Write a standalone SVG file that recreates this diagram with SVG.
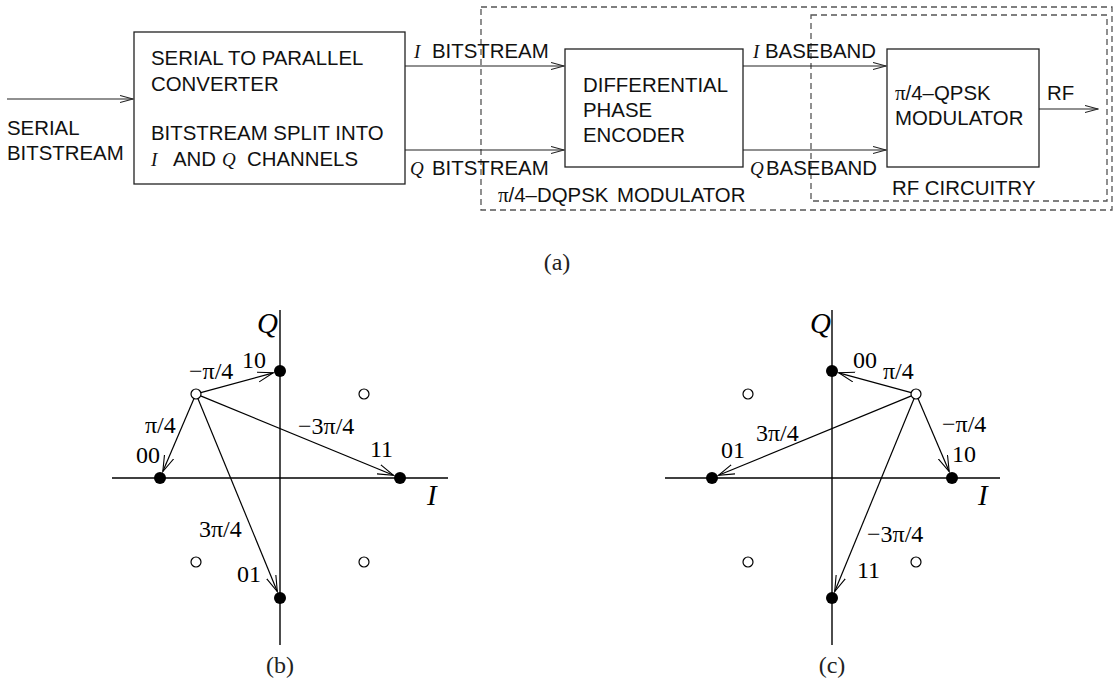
<svg xmlns="http://www.w3.org/2000/svg" width="1117" height="686" viewBox="0 0 1117 686">
  <style>
    .bg { fill: #ffffff; }
    .box { fill: none; stroke: #222; stroke-width: 1.3; }
    .dash { fill: none; stroke: #555; stroke-width: 1.3; stroke-dasharray: 6 4; }
    .wire { fill: none; stroke: #222; stroke-width: 1.2; }
    .axis { fill: none; stroke: #000; stroke-width: 1.4; }
    .vec { fill: none; stroke: #000; stroke-width: 1.2; }
    .sans { font-family: "Liberation Sans", Arial, Helvetica, sans-serif; font-size: 20.4px; fill: #111; }
    .it { font-family: "Liberation Serif", "Times New Roman", serif; font-style: italic; font-size: 19px; fill: #111; }
    .sym { font-family: "Liberation Serif", "Times New Roman", serif; font-size: 21px; fill: #111; }
    .math { font-family: "Liberation Serif", "Times New Roman", serif; font-size: 24px; fill: #000; }
    .axlbl { font-family: "Liberation Serif", "Times New Roman", serif; font-style: italic; font-size: 29px; fill: #000; }
    .cap { font-family: "Liberation Serif", "Times New Roman", serif; font-size: 24px; fill: #222; text-anchor: middle; }
    .on { fill: #000; }
    .off { fill: #fff; stroke: #000; stroke-width: 1.2; }
  </style>
  <defs>
    <marker id="openHead" markerUnits="userSpaceOnUse" markerWidth="14" markerHeight="10" refX="13" refY="4" orient="auto" viewBox="0 0 14 10">
      <path d="M0,0.5 L13,4 L0,7.5" fill="none" stroke="#222" stroke-width="1.1"/>
    </marker>
    <marker id="vecHead" markerUnits="userSpaceOnUse" markerWidth="18" markerHeight="12" refX="16" refY="5.5" orient="auto" viewBox="0 0 18 12">
      <path d="M0,0.5 L16,5.5 L0,10.5" fill="none" stroke="#000" stroke-width="1.1"/>
    </marker>
  </defs>

  <rect class="bg" x="0" y="0" width="1117" height="686"/>

  <!-- (a) block diagram -->
  <g id="modulator-frame">
    <rect class="dash" x="481" y="7" width="631" height="203"/>
    <text class="sans" x="498" y="202"><tspan class="sym">π</tspan>/4–DQPSK<tspan x="617">MODULATOR</tspan></text>
  </g>
  <g id="rf-frame">
    <rect class="dash" x="811" y="15" width="296" height="186"/>
    <text class="sans" x="892" y="195">RF CIRCUITRY</text>
  </g>

  <g id="input-label">
    <text class="sans" x="7" y="135">SERIAL</text>
    <text class="sans" x="7" y="160">BITSTREAM</text>
  </g>

  <g id="serial-to-parallel">
    <rect class="box" x="134" y="32" width="271" height="152"/>
    <text class="sans" x="151" y="65">SERIAL TO PARALLEL</text>
    <text class="sans" x="151" y="91">CONVERTER</text>
    <text class="sans" x="151" y="140">BITSTREAM SPLIT INTO</text>
    <text class="sans" x="151" y="166"><tspan class="it">I</tspan><tspan x="173">AND</tspan><tspan class="it" x="222">Q</tspan><tspan x="247">CHANNELS</tspan></text>
  </g>

  <g id="phase-encoder">
    <rect class="box" x="565" y="49" width="178" height="118"/>
    <text class="sans" x="583" y="92">DIFFERENTIAL</text>
    <text class="sans" x="583" y="117">PHASE</text>
    <text class="sans" x="583" y="142">ENCODER</text>
  </g>

  <g id="qpsk-modulator">
    <rect class="box" x="887" y="49" width="152" height="118"/>
    <text class="sans" x="895" y="100"><tspan class="sym">π</tspan>/4–QPSK</text>
    <text class="sans" x="895" y="125">MODULATOR</text>
  </g>

  <g id="connectors">
    <line class="wire" x1="7" y1="99" x2="133" y2="99" marker-end="url(#openHead)"/>
    <line class="wire" x1="405" y1="66" x2="564" y2="66" marker-end="url(#openHead)"/>
    <line class="wire" x1="405" y1="150" x2="564" y2="150" marker-end="url(#openHead)"/>
    <line class="wire" x1="743" y1="66" x2="886" y2="66" marker-end="url(#openHead)"/>
    <line class="wire" x1="743" y1="150" x2="886" y2="150" marker-end="url(#openHead)"/>
    <line class="wire" x1="1039" y1="109" x2="1098" y2="109" marker-end="url(#openHead)"/>
    <text class="sans" x="432" y="58"><tspan class="it" x="414">I</tspan><tspan x="432">BITSTREAM</tspan></text>
    <text class="sans" x="432" y="175"><tspan class="it" x="410">Q</tspan><tspan x="432">BITSTREAM</tspan></text>
    <text class="sans" x="765" y="58"><tspan class="it" x="753">I</tspan><tspan x="765">BASEBAND</tspan></text>
    <text class="sans" x="766" y="175"><tspan class="it" x="750">Q</tspan><tspan x="766">BASEBAND</tspan></text>
    <text class="sans" x="1047" y="100">RF</text>
  </g>

  <text class="cap" x="557" y="270">(a)</text>

  <!-- (b) constellation -->
  <g id="constellation-b">
    <line class="axis" x1="280" y1="310" x2="280" y2="645"/>
    <line class="axis" x1="112" y1="478" x2="448" y2="478"/>
    <text class="axlbl" x="257" y="333">Q</text>
    <text class="axlbl" x="427" y="505">I</text>

    <line class="vec" x1="200.8" y1="392.7" x2="273.3" y2="372.8" marker-end="url(#vecHead)"/>
    <line class="vec" x1="194.0" y1="398.6" x2="162.8" y2="471.6" marker-end="url(#vecHead)"/>
    <line class="vec" x1="200.6" y1="395.9" x2="393.5" y2="475.3" marker-end="url(#vecHead)"/>
    <line class="vec" x1="197.9" y1="398.6" x2="277.3" y2="591.5" marker-end="url(#vecHead)"/>

    <circle class="on" cx="280" cy="371" r="6"/>
    <circle class="on" cx="160" cy="478" r="6"/>
    <circle class="on" cx="400" cy="478" r="6"/>
    <circle class="on" cx="280" cy="598" r="6"/>
    <circle class="off" cx="196" cy="394" r="5"/>
    <circle class="off" cx="364" cy="394" r="5"/>
    <circle class="off" cx="196" cy="562" r="5"/>
    <circle class="off" cx="364" cy="562" r="5"/>

    <text class="math" x="189" y="379">−π/4</text>
    <text class="math" x="242" y="368">10</text>
    <text class="math" x="145" y="433">π/4</text>
    <text class="math" x="136" y="463">00</text>
    <text class="math" x="298" y="434">−3π/4</text>
    <text class="math" x="370" y="457">11</text>
    <text class="math" x="199" y="537">3π/4</text>
    <text class="math" x="237" y="582">01</text>
  </g>
  <text class="cap" x="280" y="673">(b)</text>

  <!-- (c) constellation -->
  <g id="constellation-c">
    <line class="axis" x1="832" y1="310" x2="832" y2="645"/>
    <line class="axis" x1="665" y1="478" x2="1000" y2="478"/>
    <text class="axlbl" x="810" y="333">Q</text>
    <text class="axlbl" x="978" y="505">I</text>

    <line class="vec" x1="911.2" y1="392.7" x2="838.7" y2="372.8" marker-end="url(#vecHead)"/>
    <line class="vec" x1="918.0" y1="398.6" x2="949.2" y2="471.6" marker-end="url(#vecHead)"/>
    <line class="vec" x1="911.4" y1="395.9" x2="718.5" y2="475.3" marker-end="url(#vecHead)"/>
    <line class="vec" x1="914.1" y1="398.6" x2="834.7" y2="591.5" marker-end="url(#vecHead)"/>

    <circle class="on" cx="832" cy="371" r="6"/>
    <circle class="on" cx="712" cy="478" r="6"/>
    <circle class="on" cx="952" cy="478" r="6"/>
    <circle class="on" cx="832" cy="598" r="6"/>
    <circle class="off" cx="748" cy="394" r="5"/>
    <circle class="off" cx="916" cy="394" r="5"/>
    <circle class="off" cx="748" cy="562" r="5"/>
    <circle class="off" cx="916" cy="562" r="5"/>

    <text class="math" x="853" y="368">00</text>
    <text class="math" x="883" y="379">π/4</text>
    <text class="math" x="942" y="432">−π/4</text>
    <text class="math" x="952" y="462">10</text>
    <text class="math" x="756" y="441">3π/4</text>
    <text class="math" x="721" y="458">01</text>
    <text class="math" x="867" y="542">−3π/4</text>
    <text class="math" x="857" y="578">11</text>
  </g>
  <text class="cap" x="832" y="673">(c)</text>
</svg>
